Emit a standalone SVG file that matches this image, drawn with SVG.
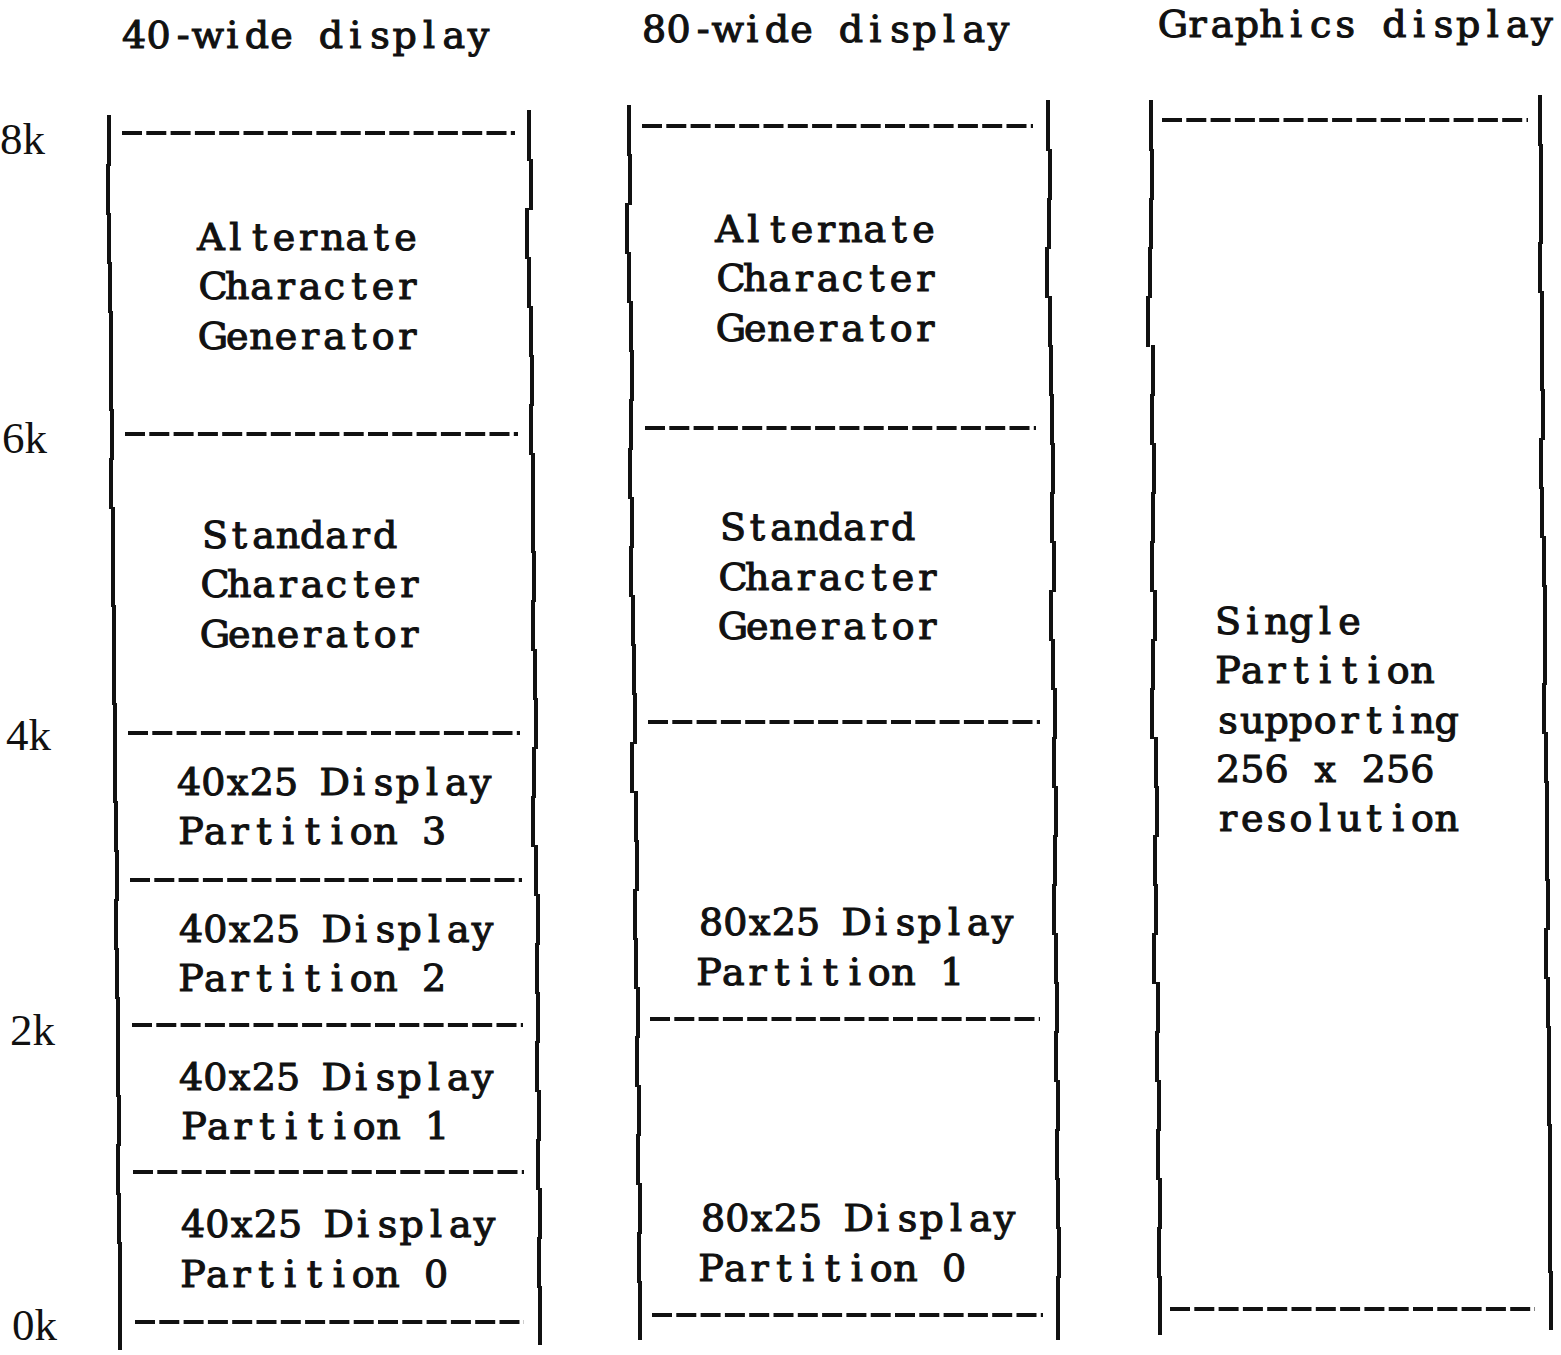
<svg xmlns="http://www.w3.org/2000/svg" width="1561" height="1355" viewBox="0 0 1561 1355">
<style>
.t{font-family:"DejaVu Serif","Liberation Serif",serif;font-size:38px;text-anchor:middle;fill:#111;stroke:#111;stroke-width:1.1px}
.k{font-family:"Liberation Serif","Times New Roman",serif;font-size:45px;fill:#111}
.d{stroke:#111;stroke-width:4;stroke-dasharray:20 4.3;fill:none}
.v{stroke:#111;stroke-width:4;fill:none}
</style>
<rect width="1561" height="1355" fill="#fff"/>
<g id="axis">
<text class="k" x="0" y="154">8k</text>
<text class="k" x="2" y="453">6k</text>
<text class="k" x="6" y="750">4k</text>
<text class="k" x="10" y="1045">2k</text>
<text class="k" x="12" y="1340">0k</text>
</g>
<g id="headers">
<text class="t" transform="translate(123,48)" x="11 35.6 60.2 84.8 109.4 134 158.6 183.2 207.8 232.4 257 281.6 306.2 330.8 355.4">40-wide display</text>
<text class="t" transform="translate(643,42)" x="11 35.6 60.2 84.8 109.4 134 158.6 183.2 207.8 232.4 257 281.6 306.2 330.8 355.4">80-wide display</text>
<text class="t" transform="translate(1162,37)" x="11 35.6 60.2 84.8 109.4 134 158.6 183.2 207.8 232.4 257 281.6 306.2 330.8 355.4 380">Graphics display</text>
</g>
<g id="connectors">
<path class="v" d="M109 115V166M108 164V215M109 213V264M110 262V313M111 311V362M111 360V411M112 409V460M111 458V509M113 507V558M113 556V607M114 605V656M114 654V705M115 703V754M115 752V803M116 801V852M117 850V901M116 899V950M117 948V999M118 997V1048M118 1046V1097M119 1095V1146M118 1144V1195M119 1193V1244M120 1242V1293M120 1291V1350"/>
<path class="v" d="M529 110V161M531 159V210M527 208V259M529 257V308M531 306V357M532 355V406M531 404V455M533 453V504M533 502V553M534 551V602M533 600V651M535 649V700M536 698V749M534 747V798M533 796V847M536 845V896M538 894V945M537 943V994M538 992V1043M537 1041V1092M539 1090V1141M538 1139V1190M540 1188V1239M539 1237V1288M540 1286V1345"/>
<path class="v" d="M629 105V156M630 154V205M627 203V254M629 252V303M631 301V352M632 350V401M631 399V450M630 448V499M632 497V548M631 546V597M633 595V646M634 644V695M635 693V744M632 742V793M636 791V842M637 840V891M635 889V940M636 938V989M638 987V1038M637 1036V1087M639 1085V1136M638 1134V1185M640 1183V1234M639 1232V1283M640 1281V1340"/>
<path class="v" d="M1048 100V151M1050 149V200M1049 198V249M1047 247V298M1050 296V347M1051 345V396M1052 394V445M1053 443V494M1052 492V543M1054 541V592M1051 590V641M1053 639V690M1055 688V739M1054 737V788M1056 786V837M1055 835V886M1054 884V935M1056 933V984M1057 982V1033M1056 1031V1082M1058 1080V1131M1057 1129V1180M1058 1178V1229M1059 1227V1278M1058 1276V1340"/>
<path class="v" d="M1151 100V151M1152 149V200M1151 198V249M1150 247V298M1148 296V347M1153 345V396M1152 394V445M1154 443V494M1153 492V543M1152 541V592M1155 590V641M1153 639V690M1152 688V739M1156 737V788M1157 786V837M1155 835V886M1156 884V935M1154 933V984M1158 982V1033M1157 1031V1082M1159 1080V1131M1158 1129V1180M1160 1178V1229M1159 1227V1278M1160 1276V1335"/>
<path class="v" d="M1540 95V146M1541 144V195M1541 193V244M1540 242V293M1542 291V342M1542 340V391M1543 389V440M1541 438V489M1542 487V538M1544 536V587M1545 585V636M1545 634V685M1544 683V734M1546 732V783M1547 781V832M1547 830V881M1548 879V930M1546 928V979M1548 977V1028M1549 1026V1077M1549 1075V1126M1550 1124V1175M1550 1173V1224M1550 1222V1273M1551 1271V1330"/>
<path class="d" d="M122 133H515M125 434H518M128 733H520M130 880H522M132 1025H523M133 1172H524M135 1322H524"/>
<path class="d" d="M642 126H1033M645 428H1036M648 722H1040M650 1019H1040M652 1315H1043"/>
<path class="d" d="M1162 120H1528M1170 1309H1535"/>
</g>
<g id="alt40">
<text class="t" transform="translate(200,250)" x="11 35.3 59.6 83.9 108.2 132.5 156.8 181.1 205.4">Alternate</text>
<text class="t" transform="translate(202,299)" x="11 35.3 59.6 83.9 108.2 132.5 156.8 181.1 205.4">Character</text>
<text class="t" transform="translate(202,349)" x="11 35.3 59.6 83.9 108.2 132.5 156.8 181.1 205.4">Generator</text>
</g>
<g id="std40">
<text class="t" transform="translate(204,548)" x="11 35.3 59.6 83.9 108.2 132.5 156.8 181.1">Standard</text>
<text class="t" transform="translate(204,597)" x="11 35.3 59.6 83.9 108.2 132.5 156.8 181.1 205.4">Character</text>
<text class="t" transform="translate(204,647)" x="11 35.3 59.6 83.9 108.2 132.5 156.8 181.1 205.4">Generator</text>
</g>
<g id="p3-40">
<text class="t" transform="translate(178,795)" x="11 35.3 59.6 83.9 108.2 132.5 156.8 181.1 205.4 229.7 254 278.3 302.6">40x25 Display</text>
<text class="t" transform="translate(180,844)" x="11 35.3 59.6 83.9 108.2 132.5 156.8 181.1 205.4 229.7 254">Partition 3</text>
</g>
<g id="p2-40">
<text class="t" transform="translate(180,942)" x="11 35.3 59.6 83.9 108.2 132.5 156.8 181.1 205.4 229.7 254 278.3 302.6">40x25 Display</text>
<text class="t" transform="translate(180,991)" x="11 35.3 59.6 83.9 108.2 132.5 156.8 181.1 205.4 229.7 254">Partition 2</text>
</g>
<g id="p1-40">
<text class="t" transform="translate(180,1090)" x="11 35.3 59.6 83.9 108.2 132.5 156.8 181.1 205.4 229.7 254 278.3 302.6">40x25 Display</text>
<text class="t" transform="translate(183,1139)" x="11 35.3 59.6 83.9 108.2 132.5 156.8 181.1 205.4 229.7 254">Partition 1</text>
</g>
<g id="p0-40">
<text class="t" transform="translate(182,1237)" x="11 35.3 59.6 83.9 108.2 132.5 156.8 181.1 205.4 229.7 254 278.3 302.6">40x25 Display</text>
<text class="t" transform="translate(182,1287)" x="11 35.3 59.6 83.9 108.2 132.5 156.8 181.1 205.4 229.7 254">Partition 0</text>
</g>
<g id="alt80">
<text class="t" transform="translate(718,242)" x="11 35.3 59.6 83.9 108.2 132.5 156.8 181.1 205.4">Alternate</text>
<text class="t" transform="translate(720,291)" x="11 35.3 59.6 83.9 108.2 132.5 156.8 181.1 205.4">Character</text>
<text class="t" transform="translate(720,341)" x="11 35.3 59.6 83.9 108.2 132.5 156.8 181.1 205.4">Generator</text>
</g>
<g id="std80">
<text class="t" transform="translate(722,540)" x="11 35.3 59.6 83.9 108.2 132.5 156.8 181.1">Standard</text>
<text class="t" transform="translate(722,590)" x="11 35.3 59.6 83.9 108.2 132.5 156.8 181.1 205.4">Character</text>
<text class="t" transform="translate(722,639)" x="11 35.3 59.6 83.9 108.2 132.5 156.8 181.1 205.4">Generator</text>
</g>
<g id="p1-80">
<text class="t" transform="translate(700,935)" x="11 35.3 59.6 83.9 108.2 132.5 156.8 181.1 205.4 229.7 254 278.3 302.6">80x25 Display</text>
<text class="t" transform="translate(698,985)" x="11 35.3 59.6 83.9 108.2 132.5 156.8 181.1 205.4 229.7 254">Partition 1</text>
</g>
<g id="p0-80">
<text class="t" transform="translate(702,1231)" x="11 35.3 59.6 83.9 108.2 132.5 156.8 181.1 205.4 229.7 254 278.3 302.6">80x25 Display</text>
<text class="t" transform="translate(700,1281)" x="11 35.3 59.6 83.9 108.2 132.5 156.8 181.1 205.4 229.7 254">Partition 0</text>
</g>
<g id="graphics">
<text class="t" transform="translate(1217,634)" x="11 35.3 59.6 83.9 108.2 132.5">Single</text>
<text class="t" transform="translate(1217,683)" x="11 35.3 59.6 83.9 108.2 132.5 156.8 181.1 205.4">Partition</text>
<text class="t" transform="translate(1217,733)" x="11 35.3 59.6 83.9 108.2 132.5 156.8 181.1 205.4 229.7">supporting</text>
<text class="t" transform="translate(1217,782)" x="11 35.3 59.6 83.9 108.2 132.5 156.8 181.1 205.4">256 x 256</text>
<text class="t" transform="translate(1217,831)" x="11 35.3 59.6 83.9 108.2 132.5 156.8 181.1 205.4 229.7">resolution</text>
</g>
</svg>
